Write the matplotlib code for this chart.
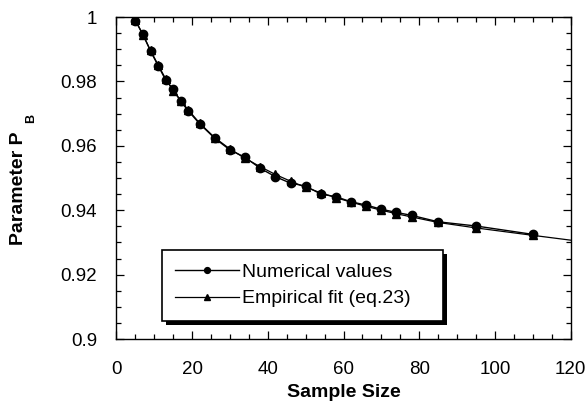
import numpy as np
import matplotlib.pyplot as plt
from matplotlib.ticker import MultipleLocator
import matplotlib.patheffects as pe

plt.rcParams['font.family'] = ['Liberation Sans', 'DejaVu Sans']

# Numerical values
sample_size = [5, 7, 9, 11, 13, 15, 17, 19, 22, 26, 30, 34, 38, 42, 46, 50,
               54, 58, 62, 66, 70, 74, 78, 85, 95, 110]
pb_numerical = [0.9988, 0.9946, 0.9894, 0.9849, 0.9804, 0.9775, 0.9738, 0.9708,
                0.9668, 0.9623, 0.9587, 0.9564, 0.9530, 0.9504, 0.9484, 0.9475,
                0.9450, 0.9442, 0.9426, 0.9416, 0.9403, 0.9393, 0.9384, 0.9364,
                0.9351, 0.9325]

# Empirical fit (eq.23), extends to the right edge
fit_size = sample_size + [120]
pb_fit = [0.9990, 0.9944, 0.9896, 0.9851, 0.9808, 0.9771, 0.9740, 0.9711,
          0.9670, 0.9625, 0.9590, 0.9561, 0.9535, 0.9511, 0.9490, 0.9471,
          0.9454, 0.9439, 0.9425, 0.9412, 0.9400, 0.9389, 0.9379, 0.9362,
          0.9345, 0.9322, 0.9307]

fig = plt.figure(figsize=(5.87, 4.03), dpi=100)
ax = fig.add_axes([116.5 / 587, 1 - 339 / 403, 454 / 587, 322 / 403])

ax.plot(fit_size, pb_fit, color='black', lw=0.9, marker='^', ms=5.5,
        markevery=list(range(len(sample_size))), label='Empirical fit (eq.23)')
ax.plot(sample_size, pb_numerical, color='black', lw=1.0, marker='o', ms=6,
        label='Numerical values')

ax.set_xlim(0, 120)
ax.set_ylim(0.9, 1.0)
ax.xaxis.set_major_locator(MultipleLocator(20))
ax.xaxis.set_minor_locator(MultipleLocator(5))
ax.yaxis.set_minor_locator(MultipleLocator(0.005))
ax.set_yticks([0.9, 0.92, 0.94, 0.96, 0.98, 1.0])
ax.set_yticklabels(['0.9', '0.92', '0.94', '0.96', '0.98', '1'])
ax.tick_params(which='both', direction='in', top=True, right=True,
               labelsize=13.5, width=0.9, colors='black')
ax.tick_params(which='major', length=6)
ax.tick_params(axis='x', which='major', pad=16)
ax.tick_params(axis='y', which='major', pad=14)
ax.tick_params(which='minor', length=3.5)
for s in ax.spines.values():
    s.set_linewidth(1.0)

ax.set_xlabel('Sample Size', fontsize=14, fontweight='bold', labelpad=4)
ax.set_ylabel('Parameter P', fontsize=14, fontweight='bold')
ax.yaxis.set_label_coords((27 - 116.5) / 454, (339 - 188) / 322)
fig.text(31.5 / 587, 1 - 118 / 403, 'B', rotation=90, fontsize=9,
         fontweight='bold', ha='center', va='center')

handles, labels = ax.get_legend_handles_labels()
leg = ax.legend(handles[::-1], labels[::-1], loc='lower left',
                bbox_to_anchor=((161.7 - 116.5) / 454, (339 - 321) / 322,
                                (443 - 161.7) / 454, (321 - 246) / 322),
                mode='expand', fontsize=14, fancybox=False, shadow=False,
                frameon=True, edgecolor='black', framealpha=1.0,
                markerscale=0.7, handlelength=3.3, handletextpad=0.15,
                labelspacing=0.45, borderaxespad=0, borderpad=0.7)
leg.get_frame().set_linewidth(1.2)
leg.get_frame().set_path_effects([pe.SimplePatchShadow(offset=(3, -3),
                                  shadow_rgbFace='black', alpha=1.0),
                                  pe.Normal()])

fig.savefig('out.png', dpi=100)
